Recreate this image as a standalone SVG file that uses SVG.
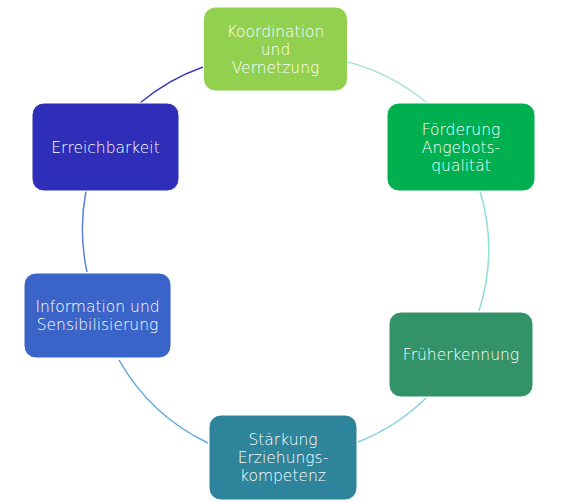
<svg xmlns="http://www.w3.org/2000/svg" width="571" height="503" viewBox="0 0 571 503">
<style>
.box{stroke:#ffffff;stroke-width:1}
.t{font-family:"DejaVu Sans","Liberation Sans",sans-serif;font-size:15.5px;font-weight:200;fill:#ffffff;text-anchor:middle}
.arc{fill:none;stroke-width:1.5}
</style>
<rect width="571" height="503" fill="#ffffff"/>
<g id="connectors">
<path class="arc" stroke="#a8e6d4" d="M348,62 A203,203 0 0 1 427,103"/>
<path class="arc" stroke="#8edfd6" d="M480,191 A203,203 0 0 1 479,311"/>
<path class="arc" stroke="#86d2e4" d="M426,398 A203,203 0 0 1 358,442"/>
<path class="arc" stroke="#5ca8dc" d="M208,443 A203,203 0 0 1 119,360"/>
<path class="arc" stroke="#5a82dc" d="M87,272 A203,203 0 0 1 86,191"/>
<path class="arc" stroke="#3a3ac0" d="M140,103 A203,203 0 0 1 203,67"/>
</g>
<g id="koordination">
<rect class="box" x="203.5" y="7" width="144" height="84" rx="12" fill="#92d050"/>
<text class="t" x="275.5" y="37">Koordination</text>
<text class="t" x="275.5" y="55">und</text>
<text class="t" x="275.5" y="73">Vernetzung</text>
</g>
<g id="foerderung">
<rect class="box" x="387" y="103" width="148" height="88" rx="12" fill="#00b050"/>
<text class="t" x="461" y="135">Förderung</text>
<text class="t" x="461" y="153">Angebots-</text>
<text class="t" x="461" y="171">qualität</text>
</g>
<g id="frueherkennung">
<rect class="box" x="389" y="312" width="144" height="85" rx="12" fill="#339268"/>
<text class="t" x="461" y="359.5">Früherkennung</text>
</g>
<g id="staerkung">
<rect class="box" x="209" y="415" width="148" height="85" rx="12" fill="#2e849a"/>
<text class="t" x="283" y="445">Stärkung</text>
<text class="t" x="283" y="463">Erziehungs-</text>
<text class="t" x="283" y="481">kompetenz</text>
</g>
<g id="information">
<rect class="box" x="24" y="273" width="147" height="85" rx="12" fill="#3b64c8"/>
<text class="t" x="97.5" y="312">Information und</text>
<text class="t" x="97.5" y="330">Sensibilisierung</text>
</g>
<g id="erreichbarkeit">
<rect class="box" x="32" y="103" width="147" height="88" rx="12" fill="#2e2eb8"/>
<text class="t" x="105.5" y="153">Erreichbarkeit</text>
</g>
</svg>
